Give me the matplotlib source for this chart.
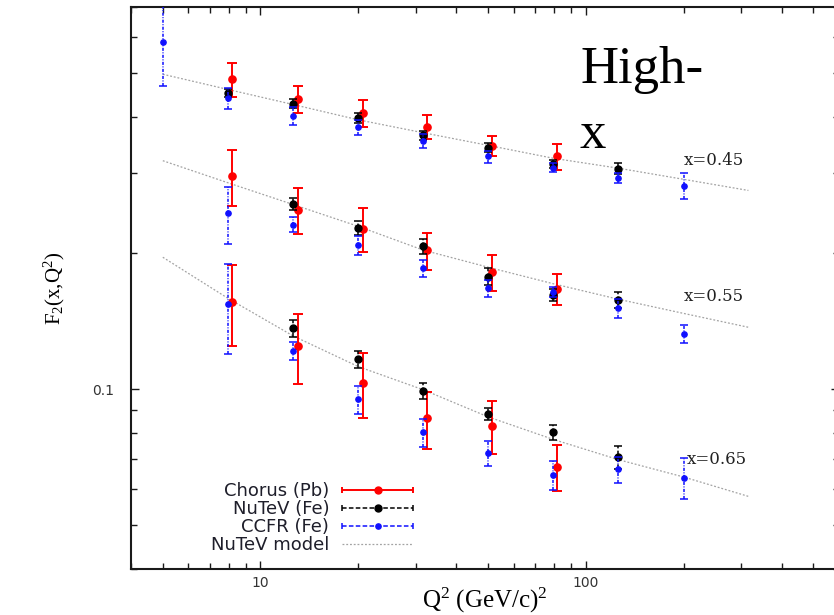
import numpy as np
import matplotlib
matplotlib.use("Agg")
import matplotlib.pyplot as plt
from matplotlib.ticker import LogLocator, NullFormatter, FuncFormatter
from matplotlib.legend_handler import HandlerErrorbar
from matplotlib.container import ErrorbarContainer
from matplotlib.collections import LineCollection
from matplotlib.lines import Line2D

plt.rcParams["mathtext.default"] = "regular"

# ---------------- data: F2(x, Q^2) at high x ----------------
# Q^2 bins in (GeV/c)^2
model_q2 = [5.01, 7.94, 12.6, 20.0, 31.6, 50.1, 79.4, 126, 200, 316]
ccfr_q2_045 = [5.01, 7.94, 12.6, 20.0, 31.6, 50.1, 79.4, 126, 200]
ccfr_q2 = [7.94, 12.6, 20.0, 31.6, 50.1, 79.4, 126, 200]
nutev_q2_045 = [7.94, 12.6, 20.0, 31.6, 50.1, 79.4, 126]
nutev_q2 = [12.6, 20.0, 31.6, 50.1, 79.4, 126]
chorus_q2 = [8.2, 13.0, 20.6, 32.5, 51.6, 81.8]

# NuTeV model curves
model_045 = [0.497, 0.460, 0.426, 0.394, 0.369, 0.346, 0.324, 0.308, 0.291, 0.275]
model_055 = [0.320, 0.286, 0.256, 0.229, 0.203, 0.186, 0.171, 0.158, 0.147, 0.137]
model_065 = [0.1957, 0.1588, 0.1311, 0.1121, 0.0997, 0.0868, 0.0774, 0.0698, 0.0639, 0.0579]

# x = 0.45
chorus_045 = [0.484, 0.439, 0.408, 0.380, 0.3445, 0.327]
chorus_045_err = [0.042, 0.030, 0.028, 0.023, 0.0175, 0.022]
nutev_045 = [0.452, 0.428, 0.398, 0.364, 0.342, 0.315, 0.307]
nutev_045_err = [0.010, 0.010, 0.010, 0.008, 0.008, 0.006, 0.0085]
ccfr_045 = [0.587, 0.440, 0.402, 0.379, 0.354, 0.327, 0.3085, 0.293, 0.282]
ccfr_045_err = [0.120, 0.023, 0.018, 0.014, 0.012, 0.010, 0.007, 0.0077, 0.019]

# x = 0.55
chorus_055 = [0.2967, 0.2494, 0.2260, 0.2026, 0.1815, 0.1663]
chorus_055_err = [0.042, 0.029, 0.025, 0.019, 0.0165, 0.013]
nutev_055 = [0.2572, 0.2268, 0.2068, 0.1774, 0.1616, 0.1575]
nutev_055_err = [0.008, 0.008, 0.008, 0.0075, 0.005, 0.0064]
ccfr_055 = [0.2447, 0.2310, 0.2078, 0.1852, 0.1672, 0.1640, 0.1510, 0.1324]
ccfr_055_err = [0.035, 0.009, 0.010, 0.008, 0.0075, 0.004, 0.0075, 0.0062]

# x = 0.65
chorus_065 = [0.1562, 0.1245, 0.1034, 0.0861, 0.0829, 0.0673]
chorus_065_err = [0.0315, 0.022, 0.017, 0.0125, 0.0112, 0.0078]
nutev_065 = [0.1363, 0.1166, 0.0990, 0.0880, 0.0802, 0.0706]
nutev_065_err = [0.006, 0.005, 0.0039, 0.0026, 0.003, 0.0042]
ccfr_065 = [0.1543, 0.1216, 0.0949, 0.0802, 0.0722, 0.0645, 0.0664, 0.0637]
ccfr_065_err = [0.035, 0.0055, 0.0066, 0.0058, 0.0045, 0.0047, 0.0045, 0.0066]

bin_labels = ["x=0.45", "x=0.55", "x=0.65"]
bin_label_pos = [(200, 0.3207), (200, 0.1599), (204, 0.0698)]

# ---------------- figure ----------------
fig = plt.figure(figsize=(8.34, 6.15), dpi=100)
ax = fig.add_axes([131 / 834, 46 / 615, 708 / 834, 562 / 615])
ax.set_xscale("log")
ax.set_yscale("log")
ax.set_xlim(4, 600)
ax.set_ylim(0.04, 0.7)

model_style = dict(ls=(0, (1.5, 1.5)), color="#a3a3a3", lw=0.9, zorder=1)
for ys in (model_045, model_055, model_065):
    ax.plot(model_q2, ys, **model_style)


def points(q, y, e, color, ms, ls, capsize, lw, z):
    c = ax.errorbar(q, y, yerr=e, fmt="o", color=color, ms=ms, capsize=capsize,
                    elinewidth=lw, capthick=lw, zorder=z)
    c[2][0].set_linestyle(ls)
    return c


chorus_sets = [(chorus_045, chorus_045_err), (chorus_055, chorus_055_err), (chorus_065, chorus_065_err)]
nutev_sets = [(nutev_q2_045, nutev_045, nutev_045_err), (nutev_q2, nutev_055, nutev_055_err),
              (nutev_q2, nutev_065, nutev_065_err)]
ccfr_sets = [(ccfr_q2_045, ccfr_045, ccfr_045_err), (ccfr_q2, ccfr_055, ccfr_055_err),
             (ccfr_q2, ccfr_065, ccfr_065_err)]

for y, e in chorus_sets:
    points(chorus_q2, y, e, "#ff0000", 5.2, "-", 3.6, 1.4, 3)
for q, y, e in nutev_sets:
    points(q, y, e, "black", 5, (0, (3, 1.5)), 3.2, 1.1, 4)
for q, y, e in ccfr_sets:
    points(q, y, e, "#1010ff", 3.8, (0, (2, 1, 0.6, 1)), 3.2, 1.1, 5)

for lab, (qx, fy) in zip(bin_labels, bin_label_pos):
    ax.text(qx, fy, lab, ha="left", va="center", fontsize=12,
            family="DejaVu Serif", color="#222222", zorder=6)

fig.text(580 / 834, 1 - 46 / 615, "High-\nx", ha="left", va="top", fontsize=38,
         family="Liberation Serif", color="black", linespacing=1.45)

# ---------------- axes styling ----------------
for s in ax.spines.values():
    s.set_linewidth(1.5)
    s.set_color("#1a1a1a")

ax.xaxis.set_major_locator(LogLocator(base=10))
ax.xaxis.set_minor_locator(LogLocator(base=10, subs=np.arange(2, 10)))
ax.yaxis.set_major_locator(LogLocator(base=10))
ax.yaxis.set_minor_locator(LogLocator(base=10, subs=np.arange(2, 10)))
ax.xaxis.set_major_formatter(FuncFormatter(lambda v, p: f"{v:g}"))
ax.yaxis.set_major_formatter(FuncFormatter(lambda v, p: f"{v:g}"))
ax.xaxis.set_minor_formatter(NullFormatter())
ax.yaxis.set_minor_formatter(NullFormatter())

ax.tick_params(which="both", direction="in", top=True, right=True,
               labelsize=10, labelcolor="#333333", width=1, color="#1a1a1a")
ax.tick_params(which="major", length=6)
ax.tick_params(which="minor", length=4)
ax.tick_params(axis="y", pad=12)
ax.tick_params(axis="x", pad=5)
for t in ax.get_xticklabels() + ax.get_yticklabels():
    t.set_family("DejaVu Sans")

ax.set_xlabel("Q$^2$ (GeV/c)$^2$", fontsize=18, family="Liberation Serif")
ax.xaxis.set_label_coords(0.5, -0.03)
ax.set_ylabel("F$_2$(x,Q$^2$)", fontsize=15, family="Liberation Serif")
ax.yaxis.set_label_coords(-0.09, 0.5)


# ---------------- legend ----------------
def legend_proxy(color, ls, ms, lw):
    dot = Line2D([], [], ls="none", marker="o", ms=ms, color=color)
    cap = Line2D([], [], ls="none", marker="|", ms=5, mew=lw, color=color)
    bar = LineCollection([], colors=color, linestyles=ls, linewidths=lw)
    return ErrorbarContainer((dot, (cap, cap), (bar,)), has_xerr=True, has_yerr=False)


handles = [
    legend_proxy("#ff0000", "-", 5, 1.4),
    legend_proxy("black", (0, (3, 1.5)), 5, 1.1),
    legend_proxy("#1010ff", (0, (3, 1.5)), 3.8, 1.1),
    Line2D([], [], **{k: v for k, v in model_style.items() if k != "zorder"}),
]
labels = ["Chorus (Pb)", "NuTeV (Fe)", "CCFR (Fe)", "NuTeV model"]
hlen = 3.9
leg = ax.legend(handles, labels, loc="upper right", bbox_to_anchor=(0.398, 0.155),
                frameon=False, markerfirst=False, numpoints=1, handlelength=hlen,
                handletextpad=0.72, labelspacing=0.0, borderpad=0, borderaxespad=0,
                prop={"family": "DejaVu Sans", "size": 13}, labelcolor="#1e1e2a",
                handler_map={ErrorbarContainer: HandlerErrorbar(xerr_size=hlen / 2)})

fig.savefig("out.png", dpi=100)
